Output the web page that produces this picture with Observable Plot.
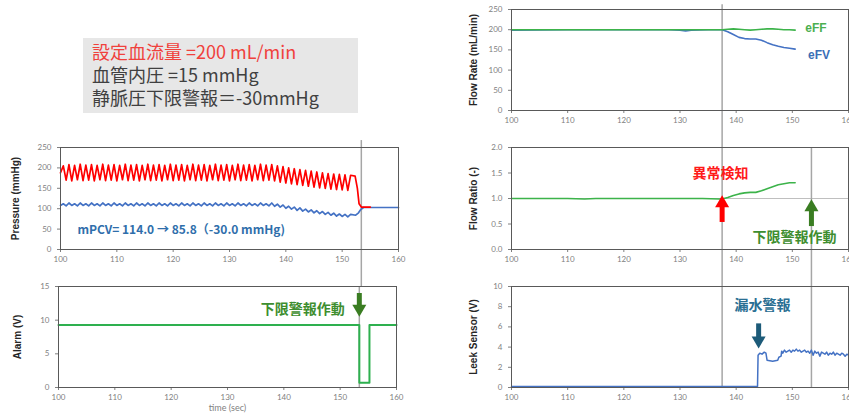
<!DOCTYPE html>
<html><head><meta charset="utf-8">
<script src="https://cdn.jsdelivr.net/npm/d3@7"></script>
<script src="https://cdn.jsdelivr.net/npm/@observablehq/plot@0.6"></script>
<style>
body{margin:0;width:849px;height:420px;overflow:hidden;position:relative;background:#fff;font-family:"Noto Sans CJK JP",sans-serif}
#box{position:absolute;left:83px;top:38px;width:275px;height:75px;background:#e7e7e7}
#box div{position:absolute;left:9px;font-size:18px;line-height:20px;color:#404040;white-space:nowrap}
</style></head><body>
<div id="box">
<div style="top:3px;color:#f0413c">設定血流量 =200 mL/min</div>
<div style="top:26px">血管内圧 =15 mmHg</div>
<div style="top:49px">静脈圧下限警報＝-30mmHg</div>
</div>
<script>
// ---------- data ----------
const xTicks = [100,110,120,130,140,150,160];
const pressureTicks = [0,50,100,150,200,250];
const alarmTicks = [0,5,10,15];
const flowRateTicks = [0,50,100,150,200,250];
const flowRatioTicks = [0,0.5,1.0,1.5,2.0];
const leekTicks = [0,2,4,6,8,10];

// pressure: one value pair per pump cycle, starting at t=100 s
const cycleStart = 100, cyclePeriod = 1.0;
const redPeak = [205,208,206,209,207,208,206,209,207,208, 206,209,207,208,206,209,207,208,206,209,
                 207,208,206,209,207,208,206,209,207,208, 206,209,207,208,206,209,207,208,
                 205,203,200,198,196,194,192,190,188,186,185,184,183,182];
const redTrough = [188,170,168,171,169,170,168,171,169,170, 168,171,169,170,168,171,169,170,168,171,
                   169,170,168,171,169,170,168,171,169,170, 168,171,169,170,168,171,169,170,
                   168,165,163,161,159,157,155,153,151,150,148,147,146,145];
const redTailT = [152.3,152.7,153.0,153.4,155.0];
const redTailV = [180,150,112,104,104];
const blueHi = [112,114,112,114,112,114,112,114,112,114, 112,114,112,114,112,114,112,114,112,114,
                112,114,112,114,112,114,112,114,112,114, 112,114,112,114,112,114,112,114,
                111,109,106,104,102,99,97,95,93,91,89,87,86,86];
const blueLo = [108,107,108,107,108,107,108,107,108,107, 108,107,108,107,108,107,108,107,108,107,
                108,107,108,107,108,107,108,107,108,107, 108,107,108,107,108,107,108,107,
                106,104,101,99,96,94,92,90,88,86,84,82,81,80];
const blueTailT = [152.4,152.9,153.3,153.8,160];
const blueTailV = [84,90,98,103,103];

// alarm
const alarmT = [100,153.4,153.4,155.2,155.2,160];
const alarmV = [9.3,9.3,0.7,0.7,9.3,9.3];

// flow rate
const eFVt = [100,110,120,128,130,131,132,135,137.5,138.5,139.5,140.5,141.5,142.5,143.5,144.5,145.5,146.5,147.5,148.5,149.5,150.5];
const eFVv = [199,200,200,200,199,197,199,200,200,195,188,181,178,177,177,174,168,163,159,156,154,152];
const eFFt = [100,110,120,130,137.5,138.5,139.5,140.5,141.5,142.5,143.5,144.5,145.5,146.5,147.5,148.5,149.5,150.5];
const eFFv = [200,200,200,200,200,201,202,201,200,199,200,201,202,202,201,200,200,199];

// flow ratio
const ratioT = [100,105,110,113,115,120,125,130,134,137,137.5,138.5,139.5,140.5,141.5,142.5,143.5,144.5,145.5,146.5,147.5,148.5,149.5,150.5];
const ratioV = [1.0,1.0,1.0,0.99,1.0,1.0,1.0,1.0,1.0,0.99,0.99,1.02,1.06,1.09,1.11,1.12,1.12,1.15,1.19,1.23,1.27,1.29,1.31,1.31];

// leek sensor
const leekT = [100,143.8,143.9,144.2,144.6,145.0,145.3,145.5,146.5,147.4,147.6,148.0,148.1,148.3,148.6,148.9,149.2,149.5,149.8,150.1,
  150.4,150.7,151.0,151.3,151.6,151.9,152.2,152.5,152.8,153.1,153.4,153.7,154.0,154.3,154.6,154.9,155.2,155.5,155.8,156.1,
  156.4,156.7,157.0,157.3,157.6,157.9,158.2,158.5,158.8,159.1,159.4,159.7,160];
const leekV = [0.1,0.1,3.2,3.4,3.3,3.5,3.4,2.7,2.6,2.7,3.0,3.1,3.6,3.4,3.7,3.5,3.6,3.7,3.5,3.7,
  3.6,3.8,3.6,3.7,3.5,3.6,3.7,3.5,3.6,3.4,3.7,3.2,3.6,3.4,3.5,3.1,3.5,3.4,3.3,3.5,
  3.2,3.4,3.3,3.5,3.2,3.4,3.3,3.2,3.4,3.3,3.1,3.3,3.2];

// event times
const alarmTime = 153.4;
const detectTime = 137.5;
const leakTime = 144;

// ---------- build tables ----------
const red = [];
redPeak.forEach((p,i)=>{ red.push({t: cycleStart+i*cyclePeriod, v: redTrough[i]}); red.push({t: cycleStart+(i+0.5)*cyclePeriod, v: p}); });
redTailT.forEach((t,i)=>red.push({t, v: redTailV[i]}));
const blue = [];
blueHi.forEach((p,i)=>{ blue.push({t: cycleStart+i*cyclePeriod, v: blueLo[i]}); blue.push({t: cycleStart+(i+0.5)*cyclePeriod, v: p}); });
blueTailT.forEach((t,i)=>blue.push({t, v: blueTailV[i]}));
const zip = (T,V)=>T.map((t,i)=>({t, v: V[i]}));

const GRAY = "#a6a6a6";
const downTri = {draw(ctx, size){ const y=Math.sqrt(size/(Math.sqrt(3)*3)); ctx.moveTo(0,2*y); ctx.lineTo(-Math.sqrt(3)*y,-y); ctx.lineTo(Math.sqrt(3)*y,-y); ctx.closePath(); }};
function arrow(x, yTail, yShaftEnd, yHead, color, down){
  return [
    Plot.ruleX([x], {y1: yTail, y2: yShaftEnd, stroke: color, strokeWidth: 5}),
    Plot.dot([x], {x: d=>d, y: yHead, r: 5.2, symbol: down ? downTri : "triangle", fill: color, stroke: "none"})
  ];
}
function label(t, x, y, o){ return Plot.text([t], {x, y, text: d=>d, fontWeight: "bold", ...o}); }

function panel(cfg){
  const svg = Plot.plot({
    width: cfg.w + 70, height: cfg.h + 38,
    marginLeft: 60, marginRight: 10, marginTop: 8, marginBottom: 30,
    x: {domain: [100,160], ticks: xTicks, tickSize: 3, tickPadding: 4, label: null},
    y: {domain: cfg.yDomain, ticks: cfg.yTicks, tickSize: 3, tickPadding: 6, tickFormat: cfg.fmt, label: null},
    style: {color: "#7f7f7f", fontSize: "8px", fontFamily: "Lato, 'Open Sans', sans-serif", background: "transparent", overflow: "visible"},
    marks: [
      ...cfg.marks,
      Plot.frame({stroke: "#595959"}),
      Plot.text([cfg.ylabel], {frameAnchor: "left", dx: -cfg.lab, rotate: -90, textAnchor: "middle", text: d=>d, fill: "#262626",
        fontWeight: "bold", fontSize: 10, fontFamily: "'Liberation Sans', Arial, sans-serif"}),
      ...(cfg.extra || [])
    ]
  });
  svg.style.position = "absolute";
  svg.style.left = (cfg.x0 - 60) + "px";
  svg.style.top = (cfg.y0 - 8) + "px";
  svg.style.overflow = "visible";
  document.body.appendChild(svg);
}

const cjk = {fontFamily: "'Noto Sans CJK JP', sans-serif", fontSize: 14};

// Pressure
panel({x0: 60, y0: 147, w: 338, h: 102, yDomain: [0,250], yTicks: pressureTicks, ylabel: "Pressure (mmHg)", lab: 45,
  marks: [
    Plot.ruleX([alarmTime], {y1: -91, y2: 267, stroke: GRAY, strokeWidth: 1.5}),
    Plot.line(blue, {x: "t", y: "v", stroke: "#4472c4", strokeWidth: 1.7}),
    Plot.line(red, {x: "t", y: "v", stroke: "#ff0000", strokeWidth: 1.7}),
  ],
  extra: [label("mPCV= 114.0 → 85.8（-30.0 mmHg)", 103, 46.5, {fill: "#2f6eab", fontSize: 12, textAnchor: "start", fontFamily: "'Noto Sans CJK JP', sans-serif"})]
});

// Alarm
panel({x0: 58, y0: 286, w: 338, h: 101, yDomain: [0,15], yTicks: alarmTicks, ylabel: "Alarm (V)", lab: 41,
  marks: [
    Plot.ruleX([alarmTime], {y1: 0, y2: 15, stroke: GRAY, strokeWidth: 1.5}),
    Plot.line(zip(alarmT, alarmV), {x: "t", y: "v", stroke: "#2eb04f", strokeWidth: 2}),
  ],
  extra: [
    ...arrow(alarmTime, 13.96, 12.0, 11.7, "#3a7d22", true),
    label("下限警報作動", 135.9, 11.6, {...cjk, fill: "#3e8e2f", textAnchor: "start"}),
    Plot.text(["time (sec)"], {frameAnchor: "bottom", dy: 23, text: d=>d, fill: "#7f7f7f", fontSize: 9})
  ]
});

// Flow rate
panel({x0: 511, y0: 9, w: 337, h: 101, yDomain: [0,250], yTicks: flowRateTicks, ylabel: "Flow Rate (mL/min)", lab: 38,
  marks: [
    Plot.ruleX([detectTime], {y1: -92, y2: 262, stroke: GRAY, strokeWidth: 1.5}),
    Plot.line(zip(eFVt, eFVv), {x: "t", y: "v", stroke: "#4472c4", strokeWidth: 1.6}),
    Plot.line(zip(eFFt, eFFv), {x: "t", y: "v", stroke: "#3cb34a", strokeWidth: 1.6}),
  ],
  extra: [
    label("eFF", 152.3, 203, {fill: "#4caf50", fontSize: 12, textAnchor: "start", fontFamily: "'Liberation Sans', Arial"}),
    label("eFV", 152.8, 136, {fill: "#3b6fb6", fontSize: 12, textAnchor: "start", fontFamily: "'Liberation Sans', Arial"})
  ]
});

// Flow ratio
panel({x0: 511, y0: 147, w: 337, h: 102, yDomain: [0,2], yTicks: flowRatioTicks, fmt: d3.format(".1f"), ylabel: "Flow Ratio (-)", lab: 38,
  marks: [
    Plot.ruleY([1], {stroke: "#bfbfbf", strokeWidth: 1.2}),
    Plot.ruleX([detectTime], {y1: -0.73, y2: 2, stroke: GRAY, strokeWidth: 1.5}),
    Plot.ruleX([alarmTime], {y1: -0.73, y2: 2, stroke: GRAY, strokeWidth: 1.5}),
    Plot.line(zip(ratioT, ratioV), {x: "t", y: "v", stroke: "#3cb34a", strokeWidth: 1.6}),
  ],
  extra: [
    ...arrow(detectTime, 0.53, 0.86, 0.906, "#ff0000", false),
    ...arrow(alarmTime, 0.45, 0.78, 0.827, "#3a7d22", false),
    label("異常検知", 137.2, 1.49, {...cjk, fill: "#ff1a1a"}),
    label("下限警報作動", 150.4, 0.235, {...cjk, fill: "#3e8e2f"})
  ]
});

// Leek sensor
panel({x0: 511, y0: 286, w: 337, h: 101, yDomain: [0,10], yTicks: leekTicks, ylabel: "Leek Sensor (V)", lab: 38,
  marks: [
    Plot.ruleX([detectTime], {y1: 0, y2: 10, stroke: GRAY, strokeWidth: 1.5}),
    Plot.ruleX([alarmTime], {y1: 0, y2: 10, stroke: GRAY, strokeWidth: 1.5}),
    Plot.line(zip(leekT, leekV), {x: "t", y: "v", stroke: "#4472c4", strokeWidth: 1.5}),
  ],
  extra: [
    ...arrow(leakTime, 6.3, 4.9, 4.65, "#1d5b79", true),
    label("漏水警報", 144.7, 8.1, {...cjk, fill: "#2a6f93"})
  ]
});
</script>
</body></html>
